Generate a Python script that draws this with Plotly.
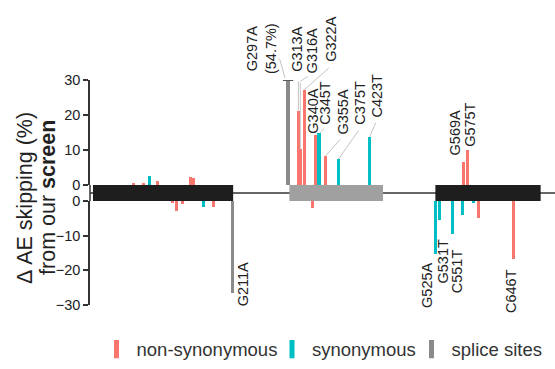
import plotly.graph_objects as go

# ---------------- data ----------------
positions = [58, 73, 82, 95, 118, 124, 134, 146, 151, 166, 182, 211, 297, 313, 316,
             322, 335, 340, 345, 355, 375, 423, 525, 531, 551, 567, 569, 575, 584, 592, 646]
deltas = [0.6, 0.7, 2.6, 1.1, -0.6, -2.9, -1.0, 2.4, 1.9, -1.7, -1.7, -26.5, 54.7, 21.2, 10.2,
          27.2, -2.0, 14.4, 14.9, 8.3, 7.4, 13.7, -15.4, -5.5, -9.6, -3.9, 6.6, 9.9, -0.7, -5.0, -16.6]
variant_types = ["ns", "ns", "syn", "ns", "ns", "ns", "ns", "ns", "ns", "syn", "ns", "splice", "splice", "ns", "ns",
                 "ns", "ns", "ns", "syn", "ns", "syn", "syn", "syn", "syn", "syn", "syn", "ns", "ns", "syn", "ns", "ns"]
variant_names = ["", "", "", "", "", "", "", "", "", "", "", "G211A", "G297A", "G313A", "G316A",
                 "G322A", "", "G340A", "C345T", "G355A", "C375T", "C423T", "G525A", "G531T", "C551T", "", "G569A",
                 "G575T", "", "", "C646T"]

exon_starts = [-5, 299, 525]
exon_ends = [212, 444, 688]
exon_kinds = ["constitutive", "alternative", "constitutive"]

upper_ticks = [0, 10, 20, 30]
lower_ticks = [-30, -20, -10, 0]
legend_names = {"ns": "non-synonymous", "syn": "synonymous", "splice": "splice sites"}

# ---------------- styling / layout ----------------
COLORS = {"ns": "#F8766D", "syn": "#00BFC4", "splice": "#8A8A8A"}
EXON_COLORS = {"constitutive": "#1E1E1E", "alternative": "#A0A0A0"}
FONT = "Liberation Sans, Arial, Helvetica, sans-serif"
X_RANGE = [-9.6, 710.2]
UP_DOM = [0.533, 1.0]
LO_DOM = [0.0, 0.4626]
Y_MAX = 30
BAR_W = 5
AXIS_COLOR = "#333333"
LEADER_COLOR = "#b5b5b5"
LABEL_SIZE = 14.5

# text centre offsets (px) from the displayed bar end: (xshift, yshift)
label_offsets = {
    "G297A": (-27, 31), "G313A": (-1.4, 61), "G316A": (11.7, 98), "G322A": (26.8, 50),
    "G340A": (-2.8, 23), "C345T": (5.9, 30), "G355A": (16.5, 43.5), "C375T": (21.6, 56.5),
    "C423T": (7.5, 41.5), "G569A": (-8.8, 29.5), "G575T": (2.3, 25.5),
    "G211A": (10.5, 8.5), "G525A": (-8.3, -31.5), "G531T": (3.8, -41.5),
    "C551T": (4.9, -37), "C646T": (-2.5, -32.5),
}
# leader segments: (xshift, yshift, ax, ay) in px
leader_segments = {
    "G297A": [(-3, 2, -6, -21)],
    "G313A": [(0, 0, 0, -31)],
    "G316A": [(0, 0, 0, -68), (0, 68, 9, -6)],
    "G322A": [(0, 0, 26, -23)],
    "C345T": [(1, 0, 5, -6)],
    "G355A": [(0, 0, 16, -18)],
    "C375T": [(0, 0, 21, -30)],
    "C423T": [(0, 0, 7, -16)],
}
# legend boxes: left edge in paper x
legend_slots = {"ns": ("legend", 0.0140), "syn": ("legend2", 0.3914), "splice": ("legend3", 0.6914)}

fig = go.Figure()

# bars
for kind in ["ns", "syn", "splice"]:
    for sign, axis in [(1, "y"), (-1, "y2")]:
        xs = [p for p, d, t in zip(positions, deltas, variant_types) if t == kind and d * sign > 0]
        ys = [d for d, t in zip(deltas, variant_types) if t == kind and d * sign > 0]
        if xs:
            fig.add_trace(go.Bar(x=xs, y=ys, width=BAR_W, yaxis=axis,
                                 marker=dict(color=COLORS[kind], line=dict(width=0)),
                                 showlegend=False, hoverinfo="skip"))

# legend entries
for kind in ["ns", "syn", "splice"]:
    fig.add_trace(go.Scatter(x=[None], y=[None], mode="markers", name=legend_names[kind],
                             legend=legend_slots[kind][0],
                             marker=dict(symbol="line-ns", size=13, color=COLORS[kind],
                                         line=dict(width=5, color=COLORS[kind]))))

gap_lo, gap_hi = LO_DOM[1], UP_DOM[0]
shapes = [
    dict(type="line", xref="paper", yref="paper", x0=0, x1=1, y0=(gap_lo + gap_hi) / 2,
         y1=(gap_lo + gap_hi) / 2, line=dict(color=AXIS_COLOR, width=1.5), layer="below"),
    dict(type="line", xref="paper", yref="paper", x0=0, x1=0, y0=gap_lo, y1=gap_hi,
         line=dict(color=AXIS_COLOR, width=1.5)),
]
for s, e, k in zip(exon_starts, exon_ends, exon_kinds):
    shapes.append(dict(type="rect", xref="x", yref="paper", x0=s, x1=e, y0=gap_lo, y1=gap_hi,
                       fillcolor=EXON_COLORS[k], line=dict(width=0)))

annotations = []
for p, d, t, name in zip(positions, deltas, variant_types, variant_names):
    if d > Y_MAX:
        shapes.append(dict(type="line", xref="x", yref="y", x0=p - 8, x1=p + 8, y0=Y_MAX, y1=Y_MAX,
                           line=dict(color="#5a5a5a", width=2)))
    if not name:
        continue
    yref = "y" if d > 0 else "y2"
    yv = min(d, Y_MAX)
    text = name if d <= Y_MAX else f"{name}<br>({d}%)"
    dx, dy = label_offsets[name]
    annotations.append(dict(x=p, y=yv, xref="x", yref=yref, text=text, showarrow=False,
                            textangle=-90, xanchor="center", yanchor="middle",
                            xshift=dx, yshift=dy, font=dict(family=FONT, size=LABEL_SIZE, color="#222222")))
    for sx, sy, ax, ay in leader_segments.get(name, []):
        annotations.append(dict(x=p, y=yv, xref="x", yref=yref, text="", showarrow=True,
                                arrowhead=0, arrowwidth=0.8, arrowcolor=LEADER_COLOR,
                                ax=ax, ay=ay, axref="pixel", ayref="pixel",
                                xshift=sx, yshift=sy, standoff=0, startstandoff=0))

# y-axis title (two lines)
title_y = (307 - 199) / 227
annotations.append(dict(x=0, y=title_y, xref="paper", yref="paper", text="Δ AE skipping (%)",
                        showarrow=False, textangle=-90, xanchor="center", yanchor="middle",
                        xshift=-65, font=dict(family=FONT, size=21.5, color="#222222")))
annotations.append(dict(x=0, y=title_y, xref="paper", yref="paper", text="from our <b>screen</b>",
                        showarrow=False, textangle=-90, xanchor="center", yanchor="middle",
                        xshift=-42, font=dict(family=FONT, size=21.5, color="#222222")))

axis_common = dict(showline=True, linecolor=AXIS_COLOR, linewidth=1.5, ticks="outside", ticklen=5,
                   tickwidth=1.5, tickcolor=AXIS_COLOR, showgrid=False, zeroline=False,
                   tickfont=dict(family=FONT, size=14.5, color="#222222"), fixedrange=True)

legend_common = dict(orientation="h", y=-0.198, xanchor="left", yanchor="middle",
                     font=dict(family=FONT, size=18.5, color="#333333"), itemwidth=30,
                     bgcolor="rgba(0,0,0,0)")

fig.update_layout(
    width=555, height=369, margin=dict(l=90, r=0, t=80, b=62),
    paper_bgcolor="white", plot_bgcolor="white",
    barmode="overlay", bargap=0,
    font=dict(family=FONT, size=14, color="#222222"),
    xaxis=dict(range=X_RANGE, visible=False, fixedrange=True),
    yaxis=dict(domain=UP_DOM, range=[0, Y_MAX], tickvals=upper_ticks, **axis_common),
    yaxis2=dict(domain=LO_DOM, range=[-Y_MAX, 0], tickvals=lower_ticks, anchor="x", **axis_common),
    legend=dict(x=legend_slots["ns"][1], **legend_common),
    legend2=dict(x=legend_slots["syn"][1], **legend_common),
    legend3=dict(x=legend_slots["splice"][1], **legend_common),
    shapes=shapes, annotations=annotations,
)

fig.write_html("out.html")
